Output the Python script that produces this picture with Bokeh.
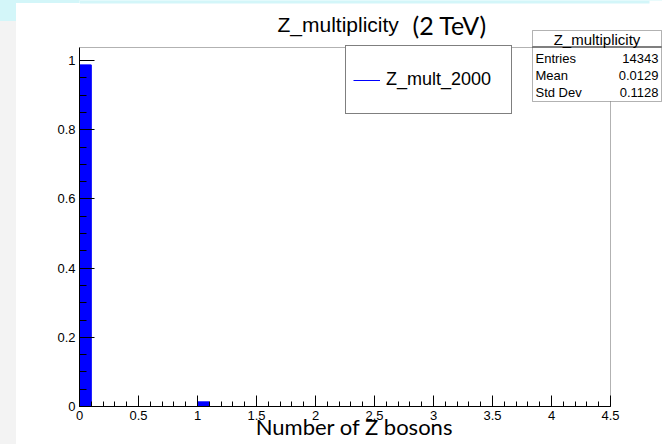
import numpy as np
from bokeh.plotting import figure
from bokeh.layouts import row
from bokeh.models import (FixedTicker, Label, BoxAnnotation, Legend, LegendItem, Range1d, Spacer)
from bokeh.embed import file_html
from bokeh.resources import INLINE

# ---------------- data ----------------
n_z_bins = [0, 1]                 # low edge of each filled bin (number of Z bosons)
fraction = [0.9871, 0.0129]       # normalised bin contents
bin_width = 0.1
x_lo, x_hi = 0, 4.5
y_lo, y_hi = 0, 1.038
x_major = [0, 0.5, 1, 1.5, 2, 2.5, 3, 3.5, 4, 4.5]
x_labels = {0: "0", 0.5: "0.5", 1: "1", 1.5: "1.5", 2: "2", 2.5: "2.5", 3: "3", 3.5: "3.5", 4: "4", 4.5: "4.5"}
y_major = [0, 0.2, 0.4, 0.6, 0.8, 1]
y_labels = {0: "0", 0.2: "0.2", 0.4: "0.4", 0.6: "0.6", 0.8: "0.8", 1: "1"}
stat_names = ["Entries", "Mean", "Std Dev"]
stat_values = ["14343", "0.0129", "0.1128"]
hist_name = "Z_multiplicity"
series_label = "Z_mult_2000"
title_main = "Z_multiplicity"
title_energy = "(2 TeV)"
x_title = "Number of Z bosons"

# ---------------- layout (canvas pixels) ----------------
W, H = 662, 444
STRIP = 16                     # light strip at the very left of the screenshot
FL, FR, FT, FB = 79, 610, 47, 406   # visible histogram frame

x_minor = [round(0.1 * i, 1) for i in range(46)]
y_minor = [round(0.05 * i, 2) for i in range(21)]

# the plotting frame covers everything right of the y axis and above the x axis,
# so that title / stats box can be drawn inside it
x_per_px = (x_hi - x_lo) / (FR - FL)
y_per_px = (y_hi - y_lo) / (FB - FT)
x_end = x_hi + (W - FR) * x_per_px
y_end = y_hi + FT * y_per_px

p = figure(width=W - STRIP, height=H, x_range=Range1d(x_lo, x_end), y_range=Range1d(y_lo, y_end),
           output_backend="svg", toolbar_location=None,
           min_border_left=FL - STRIP, min_border_right=0,
           min_border_top=0, min_border_bottom=H - FB,
           styles={"background": "linear-gradient(#d3f6f9 0px, #d3f6f9 3px, #ffffff 3px)"})
p.title.text = ""
p.background_fill_color = "white"
p.border_fill_color = None
p.outline_line_color = None
p.grid.visible = False


def sx(X):
    return X - FL


def sy(Y):
    return FB - Y


def box(l, r, t, b, **kw):
    return BoxAnnotation(left=sx(l), right=sx(r), top=sy(t), bottom=sy(b),
                         left_units="screen", right_units="screen",
                         top_units="screen", bottom_units="screen", **kw)


# cyan strip at top of screenshot
p.add_layout(box(FL, 649, 0, 3, fill_color="#d3f6f9", fill_alpha=1, line_alpha=0, level="underlay"))

# histogram bars
rights = [v + bin_width for v in n_z_bins]
p.quad(left=n_z_bins, right=rights, bottom=0, top=fraction,
       fill_color="#0000ff", line_color="#0000ff", line_width=1)
tops_r = p.segment(x0=n_z_bins, x1=rights, y0=fraction, y1=fraction,
                   line_color="#0000ff", line_width=1)

# visible frame
p.add_layout(BoxAnnotation(left=x_lo, right=x_hi, bottom=y_lo, top=y_hi,
                           fill_alpha=0, line_color="black", line_width=1))

for ax, ticks, minor, labels, bnds in [(p.xaxis[0], x_major, x_minor, x_labels, (x_lo, x_hi)),
                                       (p.yaxis[0], y_major, y_minor, y_labels, (y_lo, y_hi))]:
    ax.ticker = FixedTicker(ticks=ticks, minor_ticks=minor)
    ax.major_label_overrides = labels
    ax.bounds = bnds
    ax.axis_line_color = "black"
    ax.major_tick_line_color = "black"
    ax.minor_tick_line_color = "black"
    ax.major_tick_out = 0
    ax.minor_tick_out = 0
    ax.major_label_text_font = "Liberation Sans"
    ax.major_label_text_font_size = "13px"
    ax.major_label_text_color = "black"
    ax.major_label_standoff = 4

p.xaxis[0].major_tick_in = 11
p.xaxis[0].minor_tick_in = 5
p.yaxis[0].major_tick_in = 15
p.yaxis[0].minor_tick_in = 7

# axis title; two trailing em spaces shift the centred text left, under the histogram
p.xaxis[0].axis_label = x_title + "\u2003\u2003"
p.xaxis[0].axis_label_text_font = "Lato"
p.xaxis[0].axis_label_text_font_size = "22px"
p.xaxis[0].axis_label_text_font_style = "normal"
p.xaxis[0].axis_label_text_color = "black"
p.xaxis[0].axis_label_standoff = -10

# legend
LL, LR, LT, LB = 345, 510, FT, 114
legend = Legend(items=[LegendItem(label=series_label, renderers=[tops_r])],
                location=(LL - FL, FB - LB),
                margin=0, padding=7, spacing=0,
                glyph_width=27, glyph_height=20,
                label_standoff=6, label_width=(LR - LL) - 14 - 27 - 6,
                label_height=(LB - LT) - 14,
                label_text_font="Liberation Sans", label_text_font_size="18px",
                label_text_color="black",
                border_line_color="black", border_line_width=1,
                background_fill_color="white", background_fill_alpha=1)
p.add_layout(legend)

# stats box
SL, SR, ST, SBt = 532, 661, 30, 101
p.add_layout(box(SL, SR, ST, SBt, fill_color="white", fill_alpha=1, line_color="black", line_width=1))
p.add_layout(box(SL, SR, 46, 47, fill_color="black", fill_alpha=1, line_alpha=0))
p.add_layout(Label(x=sx((SL + SR) / 2), y=sy(38.5), x_units="screen", y_units="screen",
                   text=hist_name, text_font="Liberation Sans", text_font_size="15px",
                   text_align="center", text_baseline="middle", text_color="black"))
for i, (nm, vl) in enumerate(zip(stat_names, stat_values)):
    yy = 58 + 17 * i
    p.add_layout(Label(x=sx(535), y=sy(yy), x_units="screen", y_units="screen",
                       text=nm, text_font="Liberation Sans", text_font_size="13px",
                       text_align="left", text_baseline="middle", text_color="black"))
    p.add_layout(Label(x=sx(658), y=sy(yy), x_units="screen", y_units="screen",
                       text=vl, text_font="Liberation Sans", text_font_size="13px",
                       text_align="right", text_baseline="middle", text_color="black"))

# title
p.add_layout(Label(x=sx(277), y=sy(24), x_units="screen", y_units="screen",
                   text=title_main, text_font="Liberation Sans", text_font_size="21px",
                   text_align="left", text_baseline="alphabetic", text_color="black"))
p.add_layout(Label(x=sx(412), y=sy(24), x_units="screen", y_units="screen",
                   text=title_energy, text_font="Lato", text_font_size="25px",
                   text_align="left", text_baseline="alphabetic", text_color="black"))

strip = Spacer(width=STRIP, height=H,
               styles={"background": "linear-gradient(#d3f6f9 0px, #d3f6f9 21px, #f3f3f3 21px)"})
layout = row(strip, p, spacing=0)

open("out.html", "w").write(file_html(layout, INLINE))
